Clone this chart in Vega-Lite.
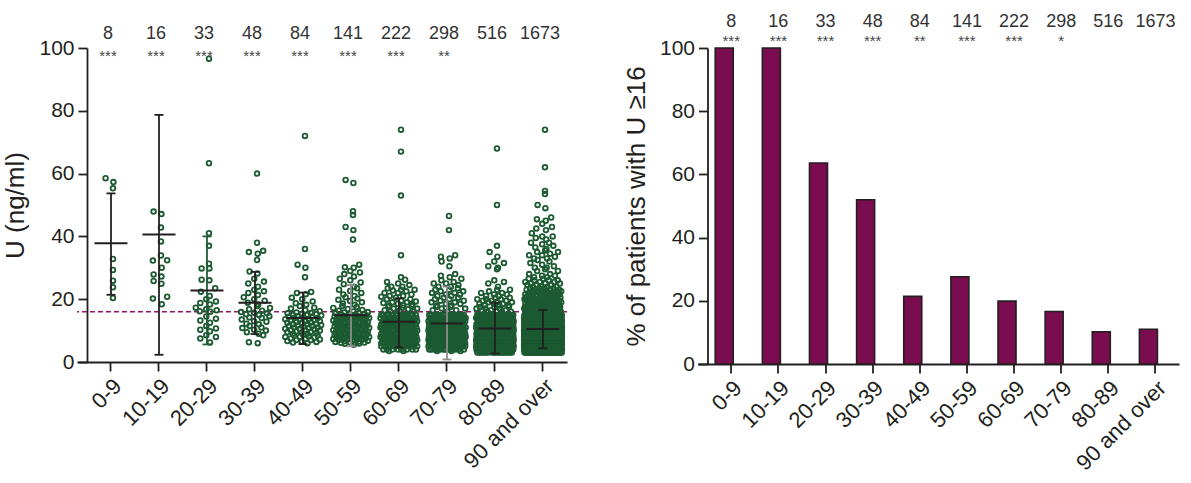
{
"$schema": "https://vega.github.io/schema/vega-lite/v6.json",
"padding": {"left": 2, "top": 12, "right": 5, "bottom": 5},
"bounds": "flush",
"spacing": 130.5,
"datasets": {
"pts": [
{"age":"0-9","u":[20.4,23.8,25.9,29.3,32.8,55.3,57.3,58.5]},
{"age":"10-19","u":[18.4,20.2,20.8,24.9,25.8,27.2,27.9,30,32.3,32.4,33.9,38.4,42.8,47.1,47.9,180]},
{"age":"20-29","u":[6.2,7.5,8,8.5,9.8,10.3,10.7,11.5,12.5,13.2,13.8,14.5,16,16.2,16.5,16.8,17.3,18.3,18.8,19.3,20,21,22.4,23.5,26,26.2,29.8,29.8,31.3,37,41,63.3,96.6]},
{"age":"30-39","u":[6,6.3,8.5,9,9.5,10,10.3,10.8,11,11.5,12,12.2,12.8,13,13.5,14,14.2,14.6,15,15.2,15.5,15.7,15.9,16.3,16.8,17.2,17.8,18.3,18.9,19.5,20,20.6,21.3,22,22.5,23,24,25,25.6,26.5,28.2,28.8,32.5,34.5,35,35.4,38,60]},
{"age":"40-49","u":[6,6.2,6.4,6.5,6.7,7,7,7.2,7.3,7.5,7.8,8,8,8.2,8.4,8.5,8.7,9,9,9.2,9.4,9.5,9.6,9.8,10,10,10.2,10.4,10.5,10.6,10.8,11,11,11.2,11.4,11.5,11.6,11.8,12,12,12.2,12.4,12.5,12.6,12.8,13,13,13.2,13.4,13.5,13.6,13.8,14,14,14.2,14.4,14.5,14.6,14.8,15,15,15.2,15.4,15.5,15.6,15.8,16.2,16.5,17,17.3,17.8,18.2,18.7,19.3,20,20.5,21.6,22,22.3,27,30,31,36,72]},
{"age":"50-59","u":[5.5,5.8,5.9,6,6.1,6.2,6.3,6.4,6.5,6.6,6.8,6.9,7,7.1,7.2,7.3,7.4,7.5,7.6,7.7,7.8,7.9,8,8,8.1,8.2,8.3,8.4,8.5,8.6,8.7,8.8,8.9,9,9,9.1,9.2,9.3,9.4,9.5,9.6,9.7,9.8,9.9,10,10.1,10.2,10.3,10.4,10.5,10.6,10.7,10.8,10.9,11,11.1,11.2,11.3,11.4,11.5,11.6,11.7,11.8,11.9,12,12.1,12.2,12.3,12.4,12.5,12.6,12.7,12.8,12.9,13,13.1,13.2,13.3,13.4,13.5,13.6,13.7,13.8,13.9,14,14.1,14.2,14.3,14.4,14.5,14.6,14.7,14.8,14.9,15,15.1,15.2,15.4,15.5,15.6,15.8,15.9,16.1,16.3,16.6,16.9,17.2,17.5,17.8,18.2,18.6,19,19.4,19.8,20.2,20.6,21,21.5,22,22.6,23,23.5,24,24.8,25.3,26,26.5,27.2,28,28.5,29,30,30.2,31,39,42,43,46.8,48,57,58]},
{"age":"60-69","u":[3.5,3.5,
4,4,4,4,4,4,4,4,
5,5,5,5,5,5,5,5,5,5,5,5,5,5,
6,6,6,6,6,6,6,6,6,6,6,6,6,6,6,6,
7,7,7,7,7,7,7,7,7,7,7,7,7,7,7,7,7,
8,8,8,8,8,8,8,8,8,8,8,8,8,8,8,8,8,
9,9,9,9,9,9,9,9,9,9,9,9,9,9,9,9,
10,10,10,10,10,10,10,10,10,10,10,10,10,10,10,10,
11,11,11,11,11,11,11,11,11,11,11,11,11,11,11,
12,12,12,12,12,12,12,12,12,12,12,12,12,12,12,
13,13,13,13,13,13,13,13,13,13,13,13,13,13,
14,14,14,14,14,14,14,14,14,14,14,14,14,14,
15,15,15,15,15,15,15,15,15,15,15,15,15,15,
16,16,16.3,16.5,16.8,17,17,17.3,17.5,17.8,18,18,18.3,18.5,18.8,19,19,19.3,19.5,20,20,20.5,20.8,21,21,21.5,22,22,22.5,22.8,23,23,23.5,24,24,24.5,25,25.5,26.2,27,34,53,67,74]},
{"age":"70-79","u":[3.5,3.5,3.5,
4,4,4,4,4,4,4,4,4,4,4,4,
5,5,5,5,5,5,5,5,5,5,5,5,5,5,5,5,5,5,5,5,
6,6,6,6,6,6,6,6,6,6,6,6,6,6,6,6,6,6,6,6,6,6,6,6,
7,7,7,7,7,7,7,7,7,7,7,7,7,7,7,7,7,7,7,7,7,7,7,7,7,
8,8,8,8,8,8,8,8,8,8,8,8,8,8,8,8,8,8,8,8,8,8,8,8,8,
9,9,9,9,9,9,9,9,9,9,9,9,9,9,9,9,9,9,9,9,9,9,9,9,
10,10,10,10,10,10,10,10,10,10,10,10,10,10,10,10,10,10,10,10,10,10,10,
11,11,11,11,11,11,11,11,11,11,11,11,11,11,11,11,11,11,11,11,11,11,
12,12,12,12,12,12,12,12,12,12,12,12,12,12,12,12,12,12,12,12,
13,13,13,13,13,13,13,13,13,13,13,13,13,13,13,13,13,13,
14,14,14,14,14,14,14,14,14,14,14,14,14,14,14,14,14,
15,15,15,15,15,15,15,15,15,15,15,15,15,15,15,15,
16,16.5,16.5,17,17,17.5,17.5,18,18,18.5,18.5,19,19,19.5,19.5,20,20,20.5,20.5,21,21,21.5,21.5,22,22,22.5,22.5,23,23,23.5,24,24,24.5,25,25,25.5,26,26.5,27,27.5,28,30.5,32,33,33.5,34,42,46.5,180]},
{"age":"80-89","u":[3,3,3,3,3,3,3,3,3,3,3,3,3,3,3,3,3,3,3,
4,4,4,4,4,4,4,4,4,4,4,4,4,4,4,4,4,4,4,4,4,4,4,4,4,4,4,4,4,4,
5,5,5,5,5,5,5,5,5,5,5,5,5,5,5,5,5,5,5,5,5,5,5,5,5,5,5,5,5,5,5,5,5,5,5,5,5,5,5,5,
6,6,6,6,6,6,6,6,6,6,6,6,6,6,6,6,6,6,6,6,6,6,6,6,6,6,6,6,6,6,6,6,6,6,6,6,6,6,6,6,6,6,6,6,6,
7,7,7,7,7,7,7,7,7,7,7,7,7,7,7,7,7,7,7,7,7,7,7,7,7,7,7,7,7,7,7,7,7,7,7,7,7,7,7,7,7,7,7,7,7,
8,8,8,8,8,8,8,8,8,8,8,8,8,8,8,8,8,8,8,8,8,8,8,8,8,8,8,8,8,8,8,8,8,8,8,8,8,8,8,8,8,8,8,8,8,
9,9,9,9,9,9,9,9,9,9,9,9,9,9,9,9,9,9,9,9,9,9,9,9,9,9,9,9,9,9,9,9,9,9,9,9,9,9,9,9,9,9,
10,10,10,10,10,10,10,10,10,10,10,10,10,10,10,10,10,10,10,10,10,10,10,10,10,10,10,10,10,10,10,10,10,10,10,10,10,10,10,10,
11,11,11,11,11,11,11,11,11,11,11,11,11,11,11,11,11,11,11,11,11,11,11,11,11,11,11,11,11,11,11,11,11,11,11,11,11,11,
12,12,12,12,12,12,12,12,12,12,12,12,12,12,12,12,12,12,12,12,12,12,12,12,12,12,12,12,12,12,12,12,12,12,12,
13,13,13,13,13,13,13,13,13,13,13,13,13,13,13,13,13,13,13,13,13,13,13,13,13,13,13,13,13,13,
14,14,14,14,14,14,14,14,14,14,14,14,14,14,14,14,14,14,14,14,14,14,14,14,14,14,14,14,
15,15,15,15,15,15,15,15,15,15,15,15,15,15,15,15,15,15,15,15,15,15,15,15,15,15,
16,16,16,16,16.5,16.5,16.5,17,17,17,17.5,17.5,17.5,18,18,18,18.5,18.5,18.5,19,19,19,19.5,19.5,19.5,20,20,20,20.5,20.5,21,21,21.5,21.5,22,22,22.5,23,23,24,25,25.5,26,29.5,30,30.5,31.5,32,33.5,35,37,50,68]},
{"age":"90 and over","u":[
3,3,3,3,3,3,3,3,3,3,3,3,3,3,3,3,3,3,3,3,3,3,3,3,3,3,3,3,3,3,
3,3,3,3,3,3,3,3,3,3,3,3,3,3,3,3,3,3,3,3,3,3,3,3,3,3,3,3,3,3,
4,4,4,4,4,4,4,4,4,4,4,4,4,4,4,4,4,4,4,4,4,4,4,4,4,4,4,4,4,4,
4,4,4,4,4,4,4,4,4,4,4,4,4,4,4,4,4,4,4,4,4,4,4,4,4,4,4,4,4,4,
4,4,4,4,4,4,4,4,4,4,4,4,4,4,4,4,4,4,4,4,4,4,4,4,4,4,4,4,4,4,
5,5,5,5,5,5,5,5,5,5,5,5,5,5,5,5,5,5,5,5,5,5,5,5,5,5,5,5,5,5,
5,5,5,5,5,5,5,5,5,5,5,5,5,5,5,5,5,5,5,5,5,5,5,5,5,5,5,5,5,5,
5,5,5,5,5,5,5,5,5,5,5,5,5,5,5,5,5,5,5,5,5,5,5,5,5,5,5,5,5,5,
5,5,5,5,5,5,5,5,5,5,5,5,5,5,5,5,5,5,5,5,5,5,5,5,5,5,5,5,5,5,
5,5,5,5,5,
6,6,6,6,6,6,6,6,6,6,6,6,6,6,6,6,6,6,6,6,6,6,6,6,6,6,6,6,6,6,
6,6,6,6,6,6,6,6,6,6,6,6,6,6,6,6,6,6,6,6,6,6,6,6,6,6,6,6,6,6,
6,6,6,6,6,6,6,6,6,6,6,6,6,6,6,6,6,6,6,6,6,6,6,6,6,6,6,6,6,6,
6,6,6,6,6,6,6,6,6,6,6,6,6,6,6,6,6,6,6,6,6,6,6,6,6,6,6,6,6,6,
6,6,6,6,6,6,6,6,6,6,6,6,6,6,6,6,6,6,6,6,6,6,6,6,6,
7,7,7,7,7,7,7,7,7,7,7,7,7,7,7,7,7,7,7,7,7,7,7,7,7,7,7,7,7,7,
7,7,7,7,7,7,7,7,7,7,7,7,7,7,7,7,7,7,7,7,7,7,7,7,7,7,7,7,7,7,
7,7,7,7,7,7,7,7,7,7,7,7,7,7,7,7,7,7,7,7,7,7,7,7,7,7,7,7,7,7,
7,7,7,7,7,7,7,7,7,7,7,7,7,7,7,7,7,7,7,7,7,7,7,7,7,7,7,7,7,7,
7,7,7,7,7,7,7,7,7,7,7,7,7,7,7,7,7,7,7,7,7,7,7,7,7,7,7,7,7,7,
7,7,7,7,7,
8,8,8,8,8,8,8,8,8,8,8,8,8,8,8,8,8,8,8,8,8,8,8,8,8,8,8,8,8,8,
8,8,8,8,8,8,8,8,8,8,8,8,8,8,8,8,8,8,8,8,8,8,8,8,8,8,8,8,8,8,
8,8,8,8,8,8,8,8,8,8,8,8,8,8,8,8,8,8,8,8,8,8,8,8,8,8,8,8,8,8,
8,8,8,8,8,8,8,8,8,8,8,8,8,8,8,8,8,8,8,8,8,8,8,8,8,8,8,8,8,8,
8,8,8,8,8,8,8,8,8,8,8,8,8,8,8,8,8,8,8,8,8,8,8,8,8,8,8,8,8,8,
8,8,8,8,8,
9,9,9,9,9,9,9,9,9,9,9,9,9,9,9,9,9,9,9,9,9,9,9,9,9,9,9,9,9,9,
9,9,9,9,9,9,9,9,9,9,9,9,9,9,9,9,9,9,9,9,9,9,9,9,9,9,9,9,9,9,
9,9,9,9,9,9,9,9,9,9,9,9,9,9,9,9,9,9,9,9,9,9,9,9,9,9,9,9,9,9,
9,9,9,9,9,9,9,9,9,9,9,9,9,9,9,9,9,9,9,9,9,9,9,9,9,9,9,9,9,9,
9,9,9,9,9,9,9,9,9,9,9,9,9,9,9,9,9,9,9,9,9,9,9,9,9,9,9,9,9,9,
10,10,10,10,10,10,10,10,10,10,10,10,10,10,10,10,10,10,10,10,10,10,10,10,10,10,10,10,10,10,
10,10,10,10,10,10,10,10,10,10,10,10,10,10,10,10,10,10,10,10,10,10,10,10,10,10,10,10,10,10,
10,10,10,10,10,10,10,10,10,10,10,10,10,10,10,10,10,10,10,10,10,10,10,10,10,10,10,10,10,10,
10,10,10,10,10,10,10,10,10,10,10,10,10,10,10,10,10,10,10,10,10,10,10,10,10,10,10,10,10,10,
10,10,10,10,10,10,10,10,10,10,10,10,10,10,10,10,10,10,10,10,
11,11,11,11,11,11,11,11,11,11,11,11,11,11,11,11,11,11,11,11,11,11,11,11,11,11,11,11,11,11,
11,11,11,11,11,11,11,11,11,11,11,11,11,11,11,11,11,11,11,11,11,11,11,11,11,11,11,11,11,11,
11,11,11,11,11,11,11,11,11,11,11,11,11,11,11,11,11,11,11,11,11,11,11,11,11,11,11,11,11,11,
11,11,11,11,11,11,11,11,11,11,11,11,11,11,11,11,11,11,11,11,11,11,11,11,11,11,11,11,11,11,
11,11,11,11,11,
12,12,12,12,12,12,12,12,12,12,12,12,12,12,12,12,12,12,12,12,12,12,12,12,12,12,12,12,12,12,
12,12,12,12,12,12,12,12,12,12,12,12,12,12,12,12,12,12,12,12,12,12,12,12,12,12,12,12,12,12,
12,12,12,12,12,12,12,12,12,12,12,12,12,12,12,12,12,12,12,12,12,12,12,12,12,12,12,12,12,12,
12,12,12,12,12,12,12,12,12,12,12,12,12,12,12,
13,13,13,13,13,13,13,13,13,13,13,13,13,13,13,13,13,13,13,13,13,13,13,13,13,13,13,13,13,13,
13,13,13,13,13,13,13,13,13,13,13,13,13,13,13,13,13,13,13,13,13,13,13,13,13,13,13,13,13,13,
13,13,13,13,13,13,13,13,13,13,13,13,13,13,13,13,13,13,13,13,13,13,13,13,13,13,13,13,13,13,
14,14,14,14,14,14,14,14,14,14,14,14,14,14,14,14,14,14,14,14,14,14,14,14,14,14,14,14,14,14,
14,14,14,14,14,14,14,14,14,14,14,14,14,14,14,14,14,14,14,14,14,14,14,14,14,14,14,14,14,14,
14,14,14,14,14,14,14,14,14,14,14,14,14,14,14,14,14,14,14,14,
15,15,15,15,15,15,15,15,15,15,15,15,15,15,15,15,15,15,15,15,15,15,15,15,15,15,15,15,15,15,
15,15,15,15,15,15,15,15,15,15,15,15,15,15,15,15,15,15,15,15,15,15,15,15,15,15,15,15,15,15,
15,15,15,15,15,15,15,15,
16,16,16,16,16,16,16,16,16,16,16.5,16.5,16.5,16.5,16.5,16.5,16.5,16.5,16.5,
17,17,17,17,17,17,17,17,17,17.5,17.5,17.5,17.5,17.5,17.5,17.5,17.5,17.5,
18,18,18,18,18,18,18,18,18,18.5,18.5,18.5,18.5,18.5,18.5,18.5,18.5,
19,19,19,19,19,19,19,19,19.5,19.5,19.5,19.5,19.5,19.5,19.5,19.5,
20,20,20,20,20,20,20,20,20.5,20.5,20.5,20.5,20.5,20.5,20.5,
21,21,21,21,21,21,21,21.5,21.5,21.5,21.5,21.5,21.5,
22,22,22,22,22,22,22.5,22.5,22.5,22.5,22.5,
23,23,23,23,23,23.5,23.5,23.5,23.5,24,24,24,24,24.5,24.5,24.5,
25,25,25,25.5,25.5,25.5,26,26,26,26.5,26.5,27,27,27.5,27.5,28,28,29,29,29.5,30,30,
30.5,31,31.5,32,32.5,33,33,33.5,34,34,34.5,35,35,35.5,
36,36.5,37,37.5,38,38,39,39.5,40,40,
41,42,42.5,43,44,45,45.5,46,
49,50,53.5,54.5,62,74]}
],
"stats": [
{"age":"0-9","mean":37.8,"lo":21.4,"hi":53.7},
{"age":"10-19","mean":40.6,"lo":2.3,"hi":78.7},
{"age":"20-29","mean":22.8,"lo":5.6,"hi":40.0},
{"age":"30-39","mean":18.9,"lo":8.9,"hi":28.7},
{"age":"40-49","mean":14.0,"lo":5.7,"hi":22.1},
{"age":"50-59","mean":14.9,"lo":5.0,"hi":24.5},
{"age":"60-69","mean":12.8,"lo":4.7,"hi":20.3},
{"age":"70-79","mean":12.3,"lo":0.8,"hi":24.0},
{"age":"80-89","mean":10.7,"lo":2.7,"hi":18.9},
{"age":"90 and over","mean":10.5,"lo":4.4,"hi":16.6}
],
"ann": [
{"age":"0-9","n":"8","sl":"***","sr":"***"},
{"age":"10-19","n":"16","sl":"***","sr":"***"},
{"age":"20-29","n":"33","sl":"***","sr":"***"},
{"age":"30-39","n":"48","sl":"***","sr":"***"},
{"age":"40-49","n":"84","sl":"***","sr":"**"},
{"age":"50-59","n":"141","sl":"***","sr":"***"},
{"age":"60-69","n":"222","sl":"***","sr":"***"},
{"age":"70-79","n":"298","sl":"**","sr":"*"},
{"age":"80-89","n":"516","sl":"","sr":""},
{"age":"90 and over","n":"1673","sl":"","sr":""}
],
"pct": [
{"age":"0-9","pct":100},
{"age":"10-19","pct":100},
{"age":"20-29","pct":63.6},
{"age":"30-39","pct":52.0},
{"age":"40-49","pct":21.4},
{"age":"50-59","pct":27.6},
{"age":"60-69","pct":19.9},
{"age":"70-79","pct":16.6},
{"age":"80-89","pct":10.2},
{"age":"90 and over","pct":11.0}
]
},
"hconcat": [
{
"width": 490,
"height": 314,
"layer": [
{"data": {"values": [{}]},
 "mark": {"type": "rule", "color": "#8e1a63", "strokeWidth": 1.6, "strokeDash": [5, 3]},
 "encoding": {"y": {"datum": 16, "type": "quantitative", "title": "U (ng/ml)", "scale": {"domain": [0, 100], "nice": false}, "axis": {"values": [0, 20, 40, 60, 80, 100], "title": "U (ng/ml)"}}}},
{"data": {"name": "pts"},
 "transform": [
  {"flatten": ["u"]},
  {"bin": {"step": 3}, "field": "u", "as": "ub"},
  {"joinaggregate": [{"op": "count", "as": "nb"}], "groupby": ["age", "ub"]},
  {"window": [{"op": "row_number", "as": "rb"}], "groupby": ["age", "ub"]},
  {"calculate": "((datum.rb * 0.618034) % 1 - 0.5) * min(1, (sqrt(datum.nb) + 1) / 4.5)", "as": "jit"}
 ],
 "mark": {"type": "point", "shape": "circle", "filled": false, "size": 22, "strokeWidth": 1.8, "color": "#1c5a31", "opacity": 1, "clip": true},
 "encoding": {
  "x": {"field": "age", "type": "nominal", "title": null, "sort": ["0-9","10-19","20-29","30-39","40-49","50-59","60-69","70-79","80-89","90 and over"], "scale": {"domain": ["0-9","10-19","20-29","30-39","40-49","50-59","60-69","70-79","80-89","90 and over"], "paddingInner": 0, "paddingOuter": 0.104, "align": 1}},
  "xOffset": {"field": "jit", "type": "quantitative", "scale": {"domain": [-0.5, 0.5], "range": [5, 43]}},
  "y": {"field": "u", "type": "quantitative", "title": "U (ng/ml)", "scale": {"domain": [0, 100], "nice": false}}
 }},
{"data": {"name": "stats"},
 "mark": {"type": "rule", "strokeWidth": 1.8, "opacity": 1},
 "encoding": {
  "x": {"field": "age", "type": "nominal", "title": null, "sort": ["0-9","10-19","20-29","30-39","40-49","50-59","60-69","70-79","80-89","90 and over"]},
  "y": {"field": "lo", "type": "quantitative", "title": "U (ng/ml)", "scale": {"domain": [0, 100], "nice": false}},
  "y2": {"field": "hi"},
  "color": {"condition": [{"test": "datum.age === '50-59' || datum.age === '70-79'", "value": "#8e8e8e"}, {"test": "datum.age === '20-29'", "value": "#1f5c33"}], "value": "#231f20"}
 }},
{"data": {"name": "stats"},
 "mark": {"type": "tick", "size": 9, "thickness": 1.8, "opacity": 1},
 "encoding": {
  "x": {"field": "age", "type": "nominal", "title": null, "sort": ["0-9","10-19","20-29","30-39","40-49","50-59","60-69","70-79","80-89","90 and over"]},
  "y": {"field": "lo", "type": "quantitative", "title": "U (ng/ml)", "scale": {"domain": [0, 100], "nice": false}},
  "color": {"condition": [{"test": "datum.age === '50-59' || datum.age === '70-79'", "value": "#8e8e8e"}, {"test": "datum.age === '20-29'", "value": "#1f5c33"}], "value": "#231f20"}
 }},
{"data": {"name": "stats"},
 "mark": {"type": "tick", "size": 9, "thickness": 1.8, "opacity": 1},
 "encoding": {
  "x": {"field": "age", "type": "nominal", "title": null, "sort": ["0-9","10-19","20-29","30-39","40-49","50-59","60-69","70-79","80-89","90 and over"]},
  "y": {"field": "hi", "type": "quantitative", "title": "U (ng/ml)", "scale": {"domain": [0, 100], "nice": false}},
  "color": {"condition": [{"test": "datum.age === '50-59' || datum.age === '70-79'", "value": "#8e8e8e"}, {"test": "datum.age === '20-29'", "value": "#1f5c33"}], "value": "#231f20"}
 }},
{"data": {"name": "stats"},
 "mark": {"type": "tick", "size": 33, "thickness": 2, "color": "#231f20", "opacity": 1},
 "encoding": {
  "x": {"field": "age", "type": "nominal", "title": null, "sort": ["0-9","10-19","20-29","30-39","40-49","50-59","60-69","70-79","80-89","90 and over"]},
  "y": {"field": "mean", "type": "quantitative", "title": "U (ng/ml)", "scale": {"domain": [0, 100], "nice": false}}
 }},
{"data": {"name": "ann"},
 "mark": {"type": "text", "fontSize": 18, "color": "#333333", "baseline": "alphabetic", "align": "center", "dx": -3},
 "encoding": {
  "x": {"field": "age", "type": "nominal", "title": null, "sort": ["0-9","10-19","20-29","30-39","40-49","50-59","60-69","70-79","80-89","90 and over"]},
  "y": {"datum": 102.9, "type": "quantitative", "title": "U (ng/ml)", "scale": {"domain": [0, 100], "nice": false}},
  "text": {"field": "n"}
 }},
{"data": {"name": "ann"},
 "mark": {"type": "text", "fontSize": 15, "color": "#444444", "baseline": "alphabetic", "align": "center", "dx": -3},
 "encoding": {
  "x": {"field": "age", "type": "nominal", "title": null, "sort": ["0-9","10-19","20-29","30-39","40-49","50-59","60-69","70-79","80-89","90 and over"]},
  "y": {"datum": 96.0, "type": "quantitative", "title": "U (ng/ml)", "scale": {"domain": [0, 100], "nice": false}},
  "text": {"field": "sl"}
 }}
]
},
{
"width": 481.5,
"height": 316,
"layer": [
{"data": {"name": "pct"},
 "mark": {"type": "bar", "fill": "#7a0d4f", "stroke": "#231f20", "strokeWidth": 1.6, "width": {"band": 0.68}},
 "encoding": {
  "x": {"field": "age", "type": "nominal", "title": null, "sort": ["0-9","10-19","20-29","30-39","40-49","50-59","60-69","70-79","80-89","90 and over"], "scale": {"domain": ["0-9","10-19","20-29","30-39","40-49","50-59","60-69","70-79","80-89","90 and over"], "paddingInner": 0, "paddingOuter": 0.108, "align": 1}},
  "y": {"field": "pct", "type": "quantitative", "title": "% of patients with U ≥16", "scale": {"domain": [0, 100], "nice": false}, "axis": {"values": [0, 20, 40, 60, 80, 100], "title": "% of patients with U ≥16"}}
 }},
{"data": {"name": "ann"},
 "mark": {"type": "text", "fontSize": 18, "color": "#333333", "baseline": "alphabetic", "align": "center"},
 "encoding": {
  "x": {"field": "age", "type": "nominal", "title": null, "sort": ["0-9","10-19","20-29","30-39","40-49","50-59","60-69","70-79","80-89","90 and over"]},
  "y": {"datum": 106.7, "type": "quantitative", "title": "% of patients with U ≥16", "scale": {"domain": [0, 100], "nice": false}},
  "yOffset": {"condition": {"test": "datum.age === '40-49'", "value": 2}, "value": 0},
  "text": {"field": "n"}
 }},
{"data": {"name": "ann"},
 "mark": {"type": "text", "fontSize": 15, "color": "#444444", "baseline": "alphabetic", "align": "center"},
 "encoding": {
  "x": {"field": "age", "type": "nominal", "title": null, "sort": ["0-9","10-19","20-29","30-39","40-49","50-59","60-69","70-79","80-89","90 and over"]},
  "y": {"datum": 100.6, "type": "quantitative", "title": "% of patients with U ≥16", "scale": {"domain": [0, 100], "nice": false}},
  "yOffset": {"condition": {"test": "datum.age === '40-49'", "value": 2.5}, "value": 0},
  "text": {"field": "sr"}
 }}
]
}
],
"config": {
 "font": "Liberation Sans",
 "view": {"stroke": null},
 "axis": {"domainColor": "#231f20", "domainWidth": 1.8, "tickColor": "#231f20", "tickWidth": 1.8, "tickSize": 9, "labelColor": "#231f20", "grid": false, "labelFont": "Liberation Sans", "titleFont": "Liberation Sans", "titleFontWeight": "normal", "titleColor": "#231f20"},
 "axisY": {"offset": -10, "labelFontSize": 21, "labelPadding": 4, "titleFontSize": 26, "titlePadding": 10},
 "axisX": {"labelAngle": -45, "labelFontSize": 22, "labelPadding": 4, "labelOverlap": false}
}
}
